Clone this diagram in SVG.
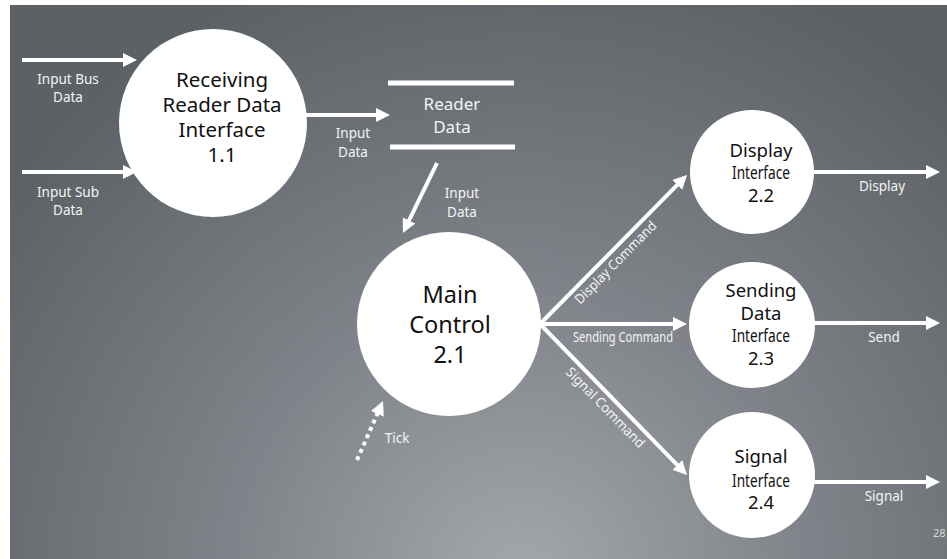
<svg xmlns="http://www.w3.org/2000/svg" width="947" height="559" viewBox="0 0 947 559">
<defs>
<radialGradient id="bg" gradientUnits="userSpaceOnUse" cx="520" cy="580" r="640">
<stop offset="0" stop-color="#a4a8ac"/>
<stop offset="0.45" stop-color="#80848a"/>
<stop offset="1" stop-color="#5c6166"/>
</radialGradient>
<marker id="ah" markerUnits="userSpaceOnUse" markerWidth="16" markerHeight="16" refX="10" refY="7" orient="auto">
<path d="M0,0 L14,7 L0,14 z" fill="#ffffff"/>
</marker>
</defs>
<style>
.node{fill:#ffffff;}
.nt{font-family:"Noto Sans","Open Sans",sans-serif;fill:#111111;text-anchor:middle;}
.lbl{font-family:"Noto Sans","Open Sans",sans-serif;fill:#f4f4f4;font-size:13.5px;text-anchor:middle;}
.flow{stroke:#ffffff;stroke-width:4;fill:none;marker-end:url(#ah);}
.store{stroke:#ffffff;stroke-width:5;}
</style>
<rect x="0" y="0" width="947" height="559" fill="#ffffff"/>
<rect x="10" y="5" width="937" height="554" fill="url(#bg)"/>

<g id="connectors">
<line class="flow" x1="22" y1="60" x2="133" y2="60"/>
<line class="flow" x1="22" y1="172" x2="133" y2="172"/>
<line class="flow" x1="305" y1="115" x2="386" y2="115"/>
<line class="flow" x1="437" y1="163" x2="404.7" y2="229.4"/>
<line class="flow" x1="540" y1="324" x2="684.2" y2="177.9"/>
<line class="flow" x1="540" y1="324" x2="683" y2="324"/>
<line class="flow" x1="540" y1="324" x2="684.2" y2="472.1"/>
<line class="flow" x1="814" y1="172" x2="936" y2="172"/>
<line class="flow" x1="814" y1="323" x2="936" y2="323"/>
<line class="flow" x1="814" y1="482" x2="936" y2="482"/>
<line class="flow" x1="357" y1="460" x2="381.4" y2="404.7" stroke-dasharray="4 4"/>
<text class="lbl" x="68" y="84">Input Bus</text>
<text class="lbl" x="68" y="102">Data</text>
<text class="lbl" x="68" y="197">Input Sub</text>
<text class="lbl" x="68" y="215">Data</text>
<text class="lbl" x="353" y="138">Input</text>
<text class="lbl" x="353" y="157">Data</text>
<text class="lbl" x="462" y="198">Input</text>
<text class="lbl" x="462" y="217">Data</text>
<text class="lbl" transform="translate(616,263) rotate(-45.4)" y="4" textLength="110" lengthAdjust="spacingAndGlyphs">Display Command</text>
<text class="lbl" x="623" y="342" font-size="12" textLength="100" lengthAdjust="spacingAndGlyphs">Sending Command</text>
<text class="lbl" transform="translate(605,408) rotate(45.7)" y="4" textLength="106" lengthAdjust="spacingAndGlyphs">Signal Command</text>
<text class="lbl" x="882" y="191">Display</text>
<text class="lbl" x="884" y="342">Send</text>
<text class="lbl" x="884" y="501">Signal</text>
<text class="lbl" x="397" y="443">Tick</text>
</g>

<g id="n11">
<circle class="node" cx="213" cy="123" r="94"/>
<text class="nt" x="222" y="87" font-size="20.5">Receiving</text>
<text class="nt" x="222" y="112" font-size="20.5">Reader Data</text>
<text class="nt" x="222" y="137" font-size="20.5">Interface</text>
<text class="nt" x="222" y="162" font-size="20.5">1.1</text>
</g>

<g id="store">
<line class="store" x1="388" y1="83" x2="514" y2="83"/>
<line class="store" x1="390" y1="147" x2="515" y2="147"/>
<text x="452" y="110" font-family="Noto Sans, Open Sans, sans-serif" font-size="17" fill="#f4f4f4" text-anchor="middle">Reader</text>
<text x="452" y="133" font-family="Noto Sans, Open Sans, sans-serif" font-size="17" fill="#f4f4f4" text-anchor="middle">Data</text>
</g>

<g id="n21">
<circle class="node" cx="449" cy="324" r="92"/>
<text class="nt" x="450" y="303" font-size="23.5">Main</text>
<text class="nt" x="450" y="333" font-size="23.5">Control</text>
<text class="nt" x="450" y="363" font-size="23.5">2.1</text>
</g>

<g id="n22">
<circle class="node" cx="752" cy="172" r="62"/>
<text class="nt" x="761" y="157" font-size="18.5">Display</text>
<text class="nt" x="761" y="179" font-size="18" textLength="58" lengthAdjust="spacingAndGlyphs">Interface</text>
<text class="nt" x="761" y="202" font-size="18.5">2.2</text>
</g>

<g id="n23">
<circle class="node" cx="752" cy="325" r="63"/>
<text class="nt" x="761" y="297" font-size="18.5">Sending</text>
<text class="nt" x="761" y="320" font-size="18.5">Data</text>
<text class="nt" x="761" y="342" font-size="18" textLength="58" lengthAdjust="spacingAndGlyphs">Interface</text>
<text class="nt" x="761" y="365" font-size="18.5">2.3</text>
</g>

<g id="n24">
<circle class="node" cx="752" cy="475" r="63"/>
<text class="nt" x="761" y="463" font-size="18.5">Signal</text>
<text class="nt" x="761" y="487" font-size="18" textLength="58" lengthAdjust="spacingAndGlyphs">Interface</text>
<text class="nt" x="761" y="509" font-size="18.5">2.4</text>
</g>

<text x="933" y="537" font-family="Noto Sans, sans-serif" font-size="11" fill="#d8d8d8">28</text>
</svg>
